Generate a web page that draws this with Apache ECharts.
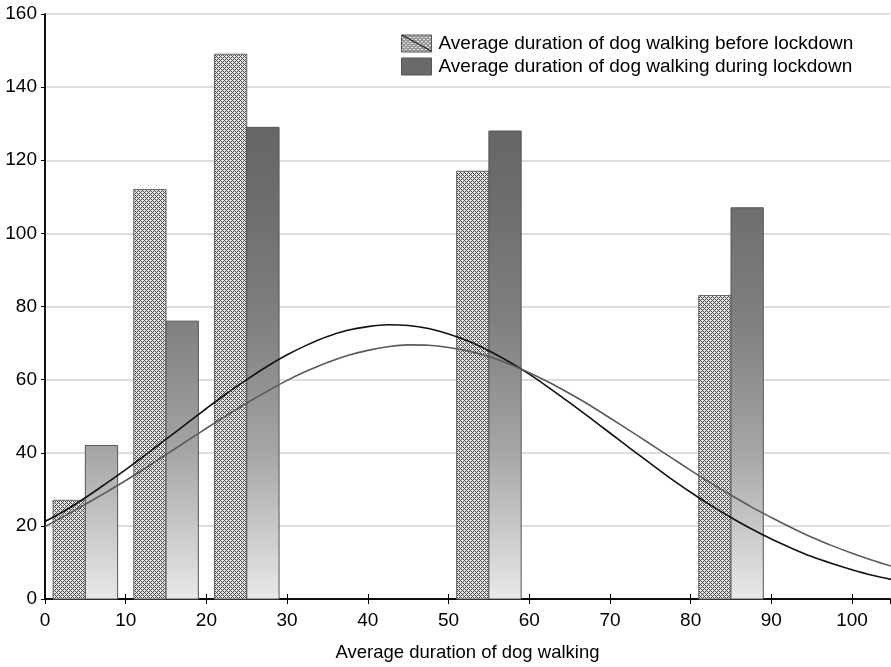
<!DOCTYPE html>
<html>
<head>
<meta charset="utf-8">
<script src="https://cdn.jsdelivr.net/npm/echarts@6/dist/echarts.min.js"></script>
<style>html,body{margin:0;padding:0;background:#fff}#c{width:891px;height:667px}</style>
</head>
<body>
<div id="c"></div>
<script>
// ---- data ----
const seriesNames = ['Average duration of dog walking before lockdown', 'Average duration of dog walking during lockdown'];
const beforeLo = [1, 11, 21, 51, 81];
const beforeHi = [5, 15, 25, 55, 85];
const beforeVals = [27, 112, 149, 117, 83];
const duringLo = [5, 15, 25, 55, 85];
const duringHi = [9, 19, 29, 59, 89];
const duringVals = [42, 76, 129, 128, 107];
const curveX = [0, 2.5, 5, 7.5, 10, 12.5, 15, 17.5, 20, 22.5, 25, 27.5, 30, 32.5, 35, 37.5, 40, 42.5, 45, 47.5, 50,
  52.5, 55, 57.5, 60, 62.5, 65, 67.5, 70, 72.5, 75, 77.5, 80, 82.5, 85, 87.5, 90, 92.5, 95, 97.5, 100, 102.5, 105];
const curveBefore = [21.2, 24.2, 27.7, 31.5, 35.4, 39.5, 43.7, 47.9, 52.1, 56.2, 60.0, 63.6, 66.8, 69.5, 71.8, 73.5, 74.5, 75.0, 74.8, 74.0, 72.5,
  70.5, 67.9, 64.9, 61.5, 57.7, 53.7, 49.6, 45.4, 41.2, 37.1, 33.0, 29.2, 25.6, 22.3, 19.2, 16.4, 13.9, 11.6, 9.7, 8.0, 6.5, 5.3];
const curveDuring = [19.8, 22.8, 25.9, 29.1, 32.4, 35.9, 39.5, 43.1, 46.7, 50.2, 53.6, 56.8, 59.8, 62.4, 64.7, 66.6, 68.0, 69.0, 69.5, 69.4, 68.8,
  67.8, 66.3, 64.3, 61.9, 59.2, 56.2, 53.0, 49.5, 46.0, 42.4, 38.8, 35.2, 31.7, 28.4, 25.2, 22.3, 19.5, 16.9, 14.6, 12.5, 10.6, 8.9];
const xTicks = [0, 10, 20, 30, 40, 50, 60, 70, 80, 90, 100];
const yTicks = [0, 20, 40, 60, 80, 100, 120, 140, 160];

// ---- styles ----
const FONT = 'Liberation Sans, Arial, sans-serif';
const FS = 19;
function makePattern() {
  const c = document.createElement('canvas');
  c.width = 4; c.height = 4;
  const g = c.getContext('2d');
  g.fillStyle = '#e4e4e4'; g.fillRect(0, 0, 4, 4);
  g.fillStyle = '#4a4a4a';
  for (let i = 0; i < 4; i++) for (let j = 0; j < 4; j++) {
    if ((i + j) % 4 === 0 || ((i - j) + 4) % 4 === 0) g.fillRect(i, j, 1, 1);
  }
  return c;
}
const pattern = { image: makePattern(), repeat: 'repeat' };
const gridTop = 14, gridBottomPx = 600;
const grad = new echarts.graphic.LinearGradient(0, gridTop, 0, gridBottomPx, [
  { offset: 0, color: '#606060' },
  { offset: 0.19, color: '#666666' },
  { offset: 0.33, color: '#6e6e6e' },
  { offset: 0.525, color: '#808080' },
  { offset: 0.74, color: '#a4a4a4' },
  { offset: 1, color: '#e9e9e9' }
], true);

const beforeData = beforeLo.map((l, i) => [l, beforeHi[i], beforeVals[i]]);
const duringData = duringLo.map((l, i) => [l, duringHi[i], duringVals[i]]);

function renderBar(params, api) {
  const p0 = api.coord([api.value(0), api.value(2)]);
  const p1 = api.coord([api.value(1), 0]);
  return {
    type: 'rect',
    shape: { x: p0[0], y: p0[1], width: p1[0] - p0[0], height: p1[1] - p0[1] },
    style: api.style()
  };
}

const chart = echarts.init(document.getElementById('c'), null, { renderer: 'canvas' });
chart.setOption({
  animation: false,
  backgroundColor: '#ffffff',
  grid: { left: 45, right: 1, top: gridTop, bottom: 67 },
  legend: {
    orient: 'vertical', left: 401, top: 34, padding: 0,
    itemWidth: 30, itemHeight: 17, itemGap: 4,
    textStyle: { fontFamily: FONT, fontSize: FS, color: '#000', padding: [0, 0, 0, 2] },
    data: [
      { name: seriesNames[0], icon: 'rect', itemStyle: { color: pattern, borderColor: '#555', borderWidth: 1 } },
      { name: seriesNames[1], icon: 'rect', itemStyle: { color: '#6a6a6a', borderColor: '#555', borderWidth: 1 } }
    ]
  },
  xAxis: [{
    type: 'value', min: 0, max: 104.7, interval: 10,
    name: 'Average duration of dog walking', nameLocation: 'middle', nameGap: 44,
    nameTextStyle: { fontFamily: FONT, fontSize: 18.5, color: '#000' },
    axisLine: { show: true, lineStyle: { color: '#000', width: 1.5 } },
    axisTick: { show: true, inside: true, length: 5, lineStyle: { color: '#000' } },
    axisLabel: { fontFamily: FONT, fontSize: FS, color: '#000', margin: 12, showMaxLabel: false,
      formatter: v => (xTicks.indexOf(v) >= 0 ? String(v) : '') },
    splitLine: { show: false }
  }, {
    type: 'value', min: 0, max: 104.7, interval: 10, position: 'top',
    axisLine: { show: true, lineStyle: { color: '#000', width: 1.5 } },
    axisTick: { show: true, inside: true, length: 5, lineStyle: { color: '#000' } },
    axisLabel: { show: false }, splitLine: { show: false }
  }],
  yAxis: [{
    type: 'value', min: 0, max: 160, interval: 20,
    axisLine: { show: true, lineStyle: { color: '#000', width: 1.5 } },
    axisTick: { show: false },
    axisLabel: { fontFamily: FONT, fontSize: FS, color: '#000', margin: 8,
      formatter: v => (yTicks.indexOf(v) >= 0 ? String(v) : '') },
    splitLine: { show: true, lineStyle: { color: '#d2d2d2', width: 1.5 } }
  }, {
    type: 'value', min: 0, max: 160, interval: 20, position: 'right',
    axisLine: { show: true, lineStyle: { color: '#000', width: 1.5 } },
    axisTick: { show: true, inside: true, length: 4, lineStyle: { color: '#000' } },
    axisLabel: { show: false }, splitLine: { show: false }
  }],
  series: [{
    name: seriesNames[0], type: 'custom', renderItem: renderBar,
    encode: { x: [0, 1], y: 2 }, data: beforeData, z: 2,
    itemStyle: { color: pattern, borderColor: '#666', borderWidth: 1 }
  }, {
    name: seriesNames[1], type: 'custom', renderItem: renderBar,
    encode: { x: [0, 1], y: 2 }, data: duringData, z: 2,
    itemStyle: { color: grad, borderColor: '#555', borderWidth: 1 }
  }, {
    name: 'curveBefore', type: 'line', smooth: 0.3, showSymbol: false, z: 5,
    data: curveX.map((x, i) => [x, curveBefore[i]]),
    lineStyle: { color: '#111', width: 1.6 }, clip: true
  }, {
    name: 'curveDuring', type: 'line', smooth: 0.3, showSymbol: false, z: 5,
    data: curveX.map((x, i) => [x, curveDuring[i]]),
    lineStyle: { color: '#5a5a5a', width: 1.6 }, clip: true
  }]
});
// diagonal stroke on the first legend swatch
chart.setOption({
  graphic: [{
    type: 'line', z: 100, silent: true,
    shape: { x1: 402, y1: 35, x2: 431, y2: 51 },
    style: { stroke: '#222', lineWidth: 1.2 }
  }]
});
</script>
</body>
</html>
